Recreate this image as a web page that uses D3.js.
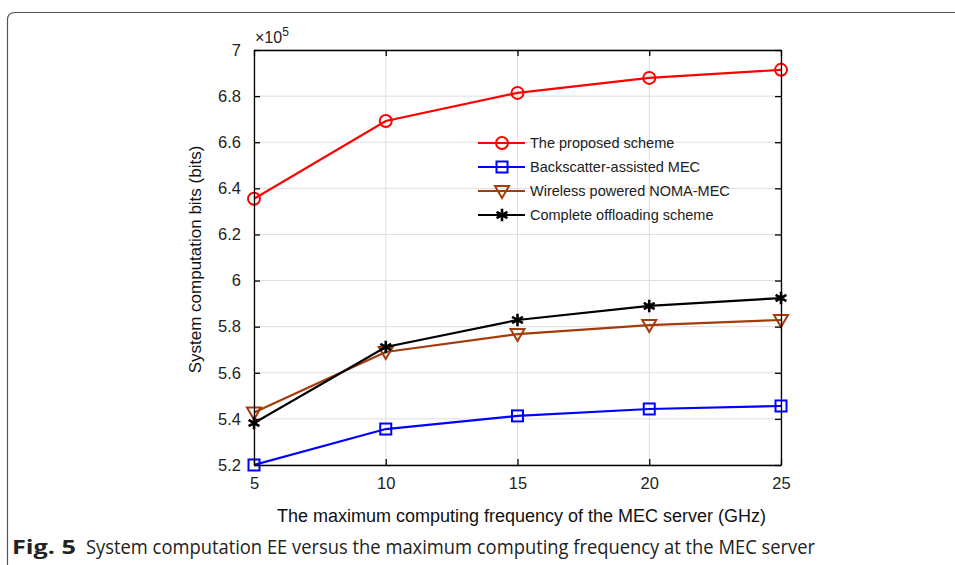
<!DOCTYPE html>
<html>
<head>
<meta charset="utf-8">
<script src="https://cdn.jsdelivr.net/npm/d3@7"></script>
<style>
  body { margin: 0; background: #fff; }
  svg { display: block; }
</style>
</head>
<body>
<script>
// values (y in units of 1e5 bits)
const freqs = [5, 10, 15, 20, 25];
const proposed = [6.355, 6.692, 6.814, 6.879, 6.914];
const backscatter = [5.200, 5.356, 5.413, 5.443, 5.456];
const noma = [5.428, 5.690, 5.768, 5.807, 5.829];
const offloading = [5.382, 5.712, 5.829, 5.890, 5.924];
const yTicks = [5.2, 5.4, 5.6, 5.8, 6, 6.2, 6.4, 6.6, 6.8, 7];
const xTicks = [5, 10, 15, 20, 25];

const series = [
  { name: "The proposed scheme", values: proposed, color: "#ff0000", marker: "circle" },
  { name: "Backscatter-assisted MEC", values: backscatter, color: "#0000ff", marker: "square" },
  { name: "Wireless powered NOMA-MEC", values: noma, color: "#a33b0c", marker: "triangle" },
  { name: "Complete offloading scheme", values: offloading, color: "#000000", marker: "star" }
];

const W = 955, H = 565;
const margin = { left: 254, right: 174, top: 50, bottom: 100 };

const svg = d3.select("body").append("svg")
    .attr("width", W)
    .attr("height", H);

// outer figure frame (rounded top-left corner)
svg.append("path")
    .attr("d", "M7.5,565 L7.5,20 Q7.5,12.5 15,12.5 L955,12.5")
    .attr("fill", "none")
    .attr("stroke", "#555")
    .attr("stroke-width", 1.2);

var x = d3.scaleLinear().domain([5, 25]).range([margin.left, W - margin.right]);
var y = d3.scaleLinear().domain([5.2, 7]).range([H - margin.bottom, margin.top]);

const plot = svg.append("g");

// grid
plot.append("g")
    .selectAll("line")
    .data(yTicks)
    .enter().append("line")
    .attr("x1", x(5)).attr("x2", x(25))
    .attr("y1", d => y(d)).attr("y2", d => y(d))
    .attr("stroke", "#dedede").attr("stroke-width", 1);
plot.append("g")
    .selectAll("line")
    .data(xTicks)
    .enter().append("line")
    .attr("y1", y(5.2)).attr("y2", y(7))
    .attr("x1", d => x(d)).attr("x2", d => x(d))
    .attr("stroke", "#dedede").attr("stroke-width", 1);

// axes
const tickFont = "Liberation Sans, Arial, sans-serif";
var xAxis = svg.append("g")
    .attr("transform", `translate(0,${y(5.2)})`)
    .call(d3.axisBottom(x).tickValues(xTicks).tickSize(-6).tickPadding(12).tickSizeOuter(0));
var xAxisTop = svg.append("g")
    .attr("transform", `translate(0,${y(7)})`)
    .call(d3.axisTop(x).tickValues(xTicks).tickSize(-6).tickFormat("").tickSizeOuter(0));
var yAxis = svg.append("g")
    .attr("transform", `translate(${x(5)},0)`)
    .call(d3.axisLeft(y).tickValues(yTicks).tickSize(-6).tickPadding(13).tickSizeOuter(0)
        .tickFormat(d => d3.format("~g")(d)));
var yAxisRight = svg.append("g")
    .attr("transform", `translate(${x(25)},0)`)
    .call(d3.axisRight(y).tickValues(yTicks).tickSize(-6).tickFormat("").tickSizeOuter(0));

[xAxis, xAxisTop, yAxis, yAxisRight].forEach(a => {
    a.selectAll("path, line").attr("stroke", "#000").attr("stroke-width", 1.3);
    a.selectAll("text")
        .attr("fill", "#222")
        .style("font-family", tickFont)
        .style("font-size", "16.5px");
});

// exponent label
svg.append("text")
    .attr("x", x(5) + 1).attr("y", y(7) - 7)
    .style("font-family", tickFont).style("font-size", "16px").attr("fill", "#222")
    .html("×10<tspan dy='-7' font-size='12px'>5</tspan>");

// axis labels
svg.append("text")
    .attr("x", (x(5) + x(25)) / 2 + 4).attr("y", 522)
    .attr("text-anchor", "middle")
    .style("font-family", tickFont).style("font-size", "18px").attr("fill", "#111")
    .text("The maximum computing frequency of the MEC server (GHz)");
svg.append("text")
    .attr("transform", `translate(201,${(y(5.2) + y(7)) / 2 + 2}) rotate(-90)`)
    .attr("text-anchor", "middle")
    .style("font-family", tickFont).style("font-size", "17px").attr("fill", "#111")
    .text("System computation bits (bits)");

// marker drawing
function drawMarker(g, kind, color) {
    if (kind === "circle") {
        g.append("circle").attr("r", 6).attr("fill", "none")
            .attr("stroke", color).attr("stroke-width", 2);
    } else if (kind === "square") {
        g.append("rect").attr("x", -5.5).attr("y", -5.5).attr("width", 11).attr("height", 11)
            .attr("fill", "none").attr("stroke", color).attr("stroke-width", 2);
    } else if (kind === "triangle") {
        g.append("path").attr("d", "M-7,-5 L7,-5 L0,7 Z")
            .attr("fill", "none").attr("stroke", color).attr("stroke-width", 2);
    } else {
        g.append("path").attr("d", d3.symbol().type(d3.symbolAsterisk).size(110)())
            .attr("fill", "none").attr("stroke", color).attr("stroke-width", 2.6);
    }
}

var line = d3.line()
    .x((d, i) => x(freqs[i]))
    .y(d => y(d));

series.forEach(s => {
    plot.append("path")
        .datum(s.values)
        .attr("d", line)
        .attr("fill", "none")
        .attr("stroke", s.color)
        .attr("stroke-width", 2.2);
    s.values.forEach((v, i) => {
        var g = plot.append("g").attr("transform", `translate(${x(freqs[i])},${y(v)})`);
        drawMarker(g, s.marker, s.color);
    });
});

// legend
var legend = svg.append("g").attr("transform", "translate(478,143)");
series.forEach((s, i) => {
    var row = legend.append("g").attr("transform", `translate(0,${i * 24})`);
    row.append("line").attr("x1", 0).attr("x2", 47).attr("y1", 0).attr("y2", 0)
        .attr("stroke", s.color).attr("stroke-width", 2.2);
    var m = row.append("g").attr("transform", "translate(24,0)");
    drawMarker(m, s.marker, s.color);
    row.append("text")
        .attr("x", 52).attr("y", 5)
        .style("font-family", tickFont).style("font-size", "14.5px").attr("fill", "#222")
        .text(s.name);
});

// caption
var cap = svg.append("text")
    .attr("x", 12).attr("y", 554)
    .style("font-family", "Open Sans, Noto Sans, sans-serif").style("font-size", "19.5px")
    .attr("fill", "#222");
cap.append("tspan").attr("font-weight", "bold").attr("textLength", 64)
    .attr("lengthAdjust", "spacingAndGlyphs").text("Fig. 5");
cap.append("tspan").attr("x", 86).attr("textLength", 729).attr("lengthAdjust", "spacingAndGlyphs")
    .text("System computation EE versus the maximum computing frequency at the MEC server");
</script>
</body>
</html>
